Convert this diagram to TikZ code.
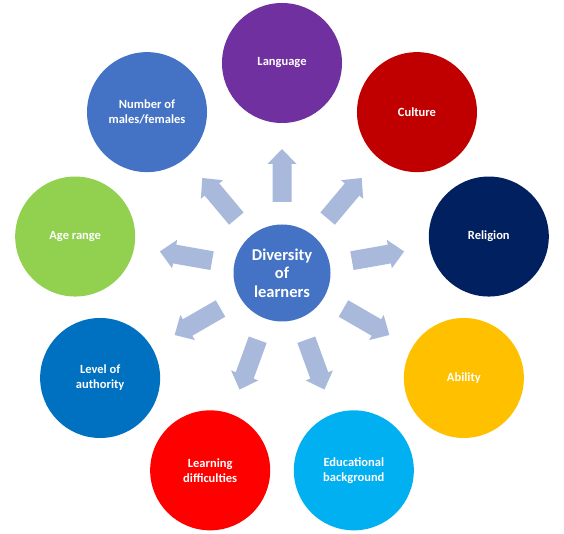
\documentclass[tikz,border=0pt]{standalone}
\usepackage{fontspec}
\setmainfont{Carlito}
\definecolor{clang}{HTML}{7030A0}
\definecolor{cculture}{HTML}{C00000}
\definecolor{creligion}{HTML}{002060}
\definecolor{cability}{HTML}{FFC000}
\definecolor{cedu}{HTML}{00B0F0}
\definecolor{clearn}{HTML}{FF0000}
\definecolor{cauth}{HTML}{0070C0}
\definecolor{cage}{HTML}{92D050}
\definecolor{cnum}{HTML}{4472C4}
\definecolor{ccenter}{HTML}{4472C4}
\definecolor{carrow}{HTML}{A9B9DC}
\begin{document}
\begin{tikzpicture}[x=1pt,y=1pt,
  outer/.style={circle, minimum size=120pt, inner sep=0pt, text=white,
    font=\fontsize{12.5}{15}\selectfont\bfseries, align=center},
  hub/.style={circle, minimum size=97pt, inner sep=0pt, text=white, fill=ccenter,
    font=\fontsize{16.5}{18.5}\selectfont\bfseries, align=center},
  blockarrow/.style={fill=carrow}]
\useasboundingbox (-282,-261) rectangle (282,273);
\node[outer, fill=clang]     (lang)    at (90:210pt)  {Language};
\node[outer, fill=cculture]  (culture) at (50:210pt)  {Culture};
\node[outer, fill=creligion] (relig)   at (10:210pt)  {Religion};
\node[outer, fill=cability]  (abil)    at (-30:210pt) {Ability};
\node[outer, fill=cedu]      (edu)     at (-70:210pt) {Educational\\background};
\node[outer, fill=clearn]    (learn)   at (-110:210pt) {Learning\\difficulties};
\node[outer, fill=cauth]     (auth)    at (-150:210pt) {Level of\\authority};
\node[outer, fill=cage]      (age)     at (170:210pt) {Age range};
\node[outer, fill=cnum]      (num)     at (130:210pt) {Number of\\males/females};
\node[hub] (hubnode) at (0,0) {Diversity\\of\\learners};
\foreach \a in {90,50,10,-30,-70,-110,-150,170,130}{
  \fill[blockarrow, rotate=\a] (71,-9.5) -- (109,-9.5) -- (109,-14.5) -- (124,0)
    -- (109,14.5) -- (109,9.5) -- (71,9.5) -- cycle;
}
\end{tikzpicture}
\end{document}
